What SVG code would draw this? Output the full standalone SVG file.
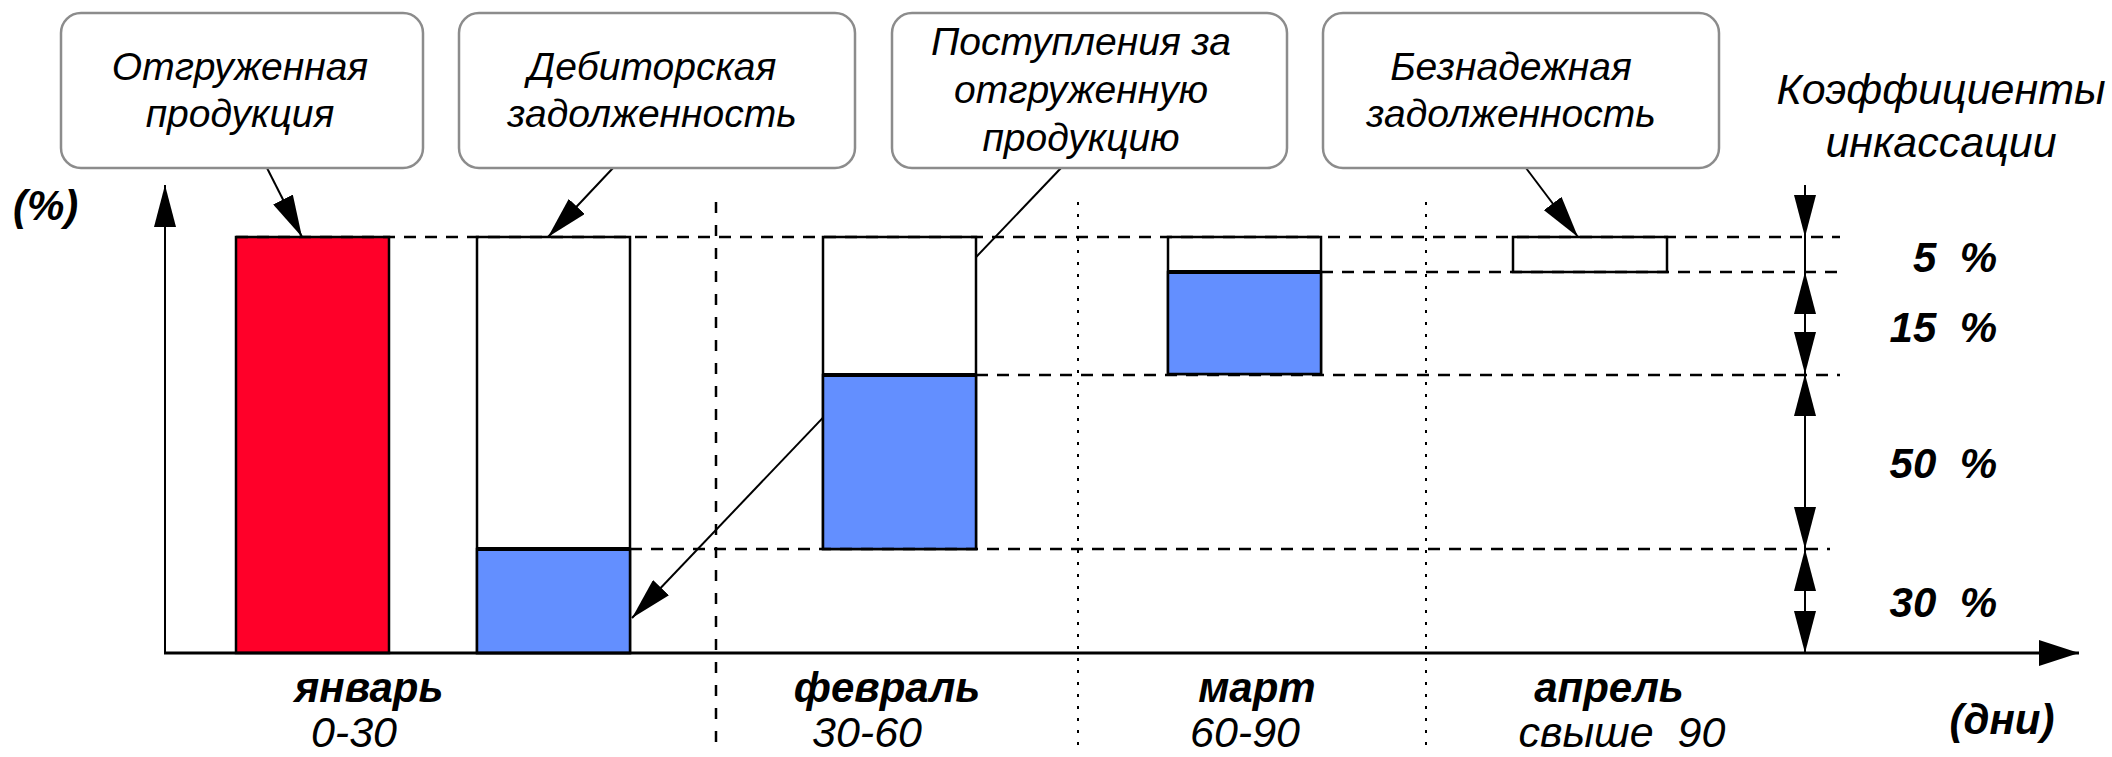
<svg xmlns="http://www.w3.org/2000/svg" width="2112" height="757" viewBox="0 0 2112 757">
<defs>
<style>
.box{fill:#fff;stroke:#8c8c8c;stroke-width:2.5}
.bt{font-family:"Liberation Sans",Arial,sans-serif;font-style:italic;font-size:39px;text-anchor:middle;fill:#000}
.bi{font-family:"Liberation Sans",Arial,sans-serif;font-style:italic;font-weight:bold;font-size:42px;fill:#000}
.it{font-family:"Liberation Sans",Arial,sans-serif;font-style:italic;font-size:43px;fill:#000;text-anchor:middle}
.bar{stroke:#000;stroke-width:2.5}
.white{fill:#fff}
.blue{fill:#638FFF}
.red{fill:#FF0029}
.div{stroke:#000;stroke-width:4}
.dash{stroke:#000;stroke-width:2.5;stroke-dasharray:12 9;fill:none}
.vdash{stroke:#000;stroke-width:2.5;stroke-dasharray:11 12;fill:none}
.dot{stroke:#000;stroke-width:2;stroke-dasharray:3 9;fill:none}
.ln{stroke:#000;stroke-width:2;fill:none}
</style>
<marker id="ah" viewBox="0 0 42 22" refX="42" refY="11" markerWidth="42" markerHeight="22" markerUnits="userSpaceOnUse" orient="auto-start-reverse">
<path d="M0,0 L42,11 L0,22 Z" fill="#000"/>
</marker>
<marker id="ahx" viewBox="0 0 40 26" refX="40" refY="13" markerWidth="40" markerHeight="26" markerUnits="userSpaceOnUse" orient="auto">
<path d="M0,0 L40,13 L0,26 Z" fill="#000"/>
</marker>
</defs>

<g id="grid">
<line class="vdash" x1="716" y1="202" x2="716" y2="752"/>
<line class="dot" x1="1078" y1="202" x2="1078" y2="752"/>
<line class="dot" x1="1426" y1="202" x2="1426" y2="752"/>
</g>

<g id="connectors">
<line class="ln" x1="1061" y1="168" x2="632" y2="618" marker-end="url(#ah)"/>
<line class="ln" x1="267" y1="168" x2="302" y2="237" marker-end="url(#ah)"/>
<line class="ln" x1="613" y1="168" x2="548" y2="237" marker-end="url(#ah)"/>
<line class="ln" x1="1526" y1="168" x2="1578" y2="237" marker-end="url(#ah)"/>
</g>

<g id="bar-jan-shipped">
<rect class="bar red" x="236" y="237" width="153" height="416"/>
</g>
<g id="bar-jan-receivable">
<rect class="bar white" x="477" y="237" width="153" height="416"/>
<rect class="bar blue" x="477" y="549" width="153" height="104"/>
<line class="div" x1="477" y1="549" x2="630" y2="549"/>
</g>
<g id="bar-feb">
<rect class="bar white" x="823" y="237" width="153" height="312"/>
<rect class="bar blue" x="823" y="375" width="153" height="174"/>
<line class="div" x1="823" y1="375" x2="976" y2="375"/>
</g>
<g id="bar-mar">
<rect class="bar white" x="1168" y="237" width="153" height="137"/>
<rect class="bar blue" x="1168" y="272" width="153" height="102"/>
<line class="div" x1="1168" y1="272" x2="1321" y2="272"/>
</g>
<g id="bar-apr">
<rect class="bar white" x="1513" y="237" width="154" height="35"/>
</g>

<g id="levels">
<line class="dash" x1="236" y1="237" x2="1840" y2="237"/>
<line class="dash" x1="1321" y1="272" x2="1840" y2="272"/>
<line class="dash" x1="976" y1="375" x2="1840" y2="375"/>
<line class="dash" x1="630" y1="549" x2="1830" y2="549"/>
</g>

<g id="axes">
<line x1="165" y1="653" x2="165" y2="185" stroke="#000" stroke-width="2" marker-end="url(#ah)"/>
<line x1="164" y1="653" x2="2079" y2="653" stroke="#000" stroke-width="3" marker-end="url(#ahx)"/>
</g>

<g id="coef-arrows">
<line class="ln" x1="1805" y1="185" x2="1805" y2="237" marker-end="url(#ah)"/>
<line class="ln" x1="1805" y1="237" x2="1805" y2="272"/>
<line class="ln" x1="1805" y1="272" x2="1805" y2="374" marker-start="url(#ah)" marker-end="url(#ah)"/>
<line class="ln" x1="1805" y1="374" x2="1805" y2="549" marker-start="url(#ah)" marker-end="url(#ah)"/>
<line class="ln" x1="1805" y1="549" x2="1805" y2="653" marker-start="url(#ah)" marker-end="url(#ah)"/>
</g>

<g id="box-shipped">
<rect class="box" x="61" y="13" width="362" height="155" rx="20"/>
<text class="bt" x="240" y="80">Отгруженная</text>
<text class="bt" x="240" y="127">продукция</text>
</g>
<g id="box-receivable">
<rect class="box" x="459" y="13" width="396" height="155" rx="20"/>
<text class="bt" x="652" y="80">Дебиторская</text>
<text class="bt" x="652" y="127">задолженность</text>
</g>
<g id="box-receipts">
<rect class="box" x="892" y="13" width="395" height="155" rx="20"/>
<text class="bt" x="1081" y="55">Поступления за</text>
<text class="bt" x="1081" y="103">отгруженную</text>
<text class="bt" x="1081" y="151">продукцию</text>
</g>
<g id="box-bad">
<rect class="box" x="1323" y="13" width="396" height="155" rx="20"/>
<text class="bt" x="1511" y="80">Безнадежная</text>
<text class="bt" x="1511" y="127">задолженность</text>
</g>

<g id="labels">
<text class="it" x="1941" y="104" font-size="44">Коэффициенты</text>
<text class="it" x="1941" y="157" font-size="44">инкассации</text>
<text class="bi" x="13" y="220">(%)</text>
<text class="bi" x="1997" y="272" text-anchor="end" font-size="44" xml:space="preserve">5  %</text>
<text class="bi" x="1997" y="342" text-anchor="end" font-size="44" xml:space="preserve">15  %</text>
<text class="bi" x="1997" y="478" text-anchor="end" font-size="44" xml:space="preserve">50  %</text>
<text class="bi" x="1997" y="617" text-anchor="end" font-size="44" xml:space="preserve">30  %</text>
<text class="bi" x="369" y="702" text-anchor="middle">январь</text>
<text class="bi" x="887" y="702" text-anchor="middle">февраль</text>
<text class="bi" x="1257" y="702" text-anchor="middle">март</text>
<text class="bi" x="1609" y="702" text-anchor="middle">апрель</text>
<text class="it" x="354" y="747">0-30</text>
<text class="it" x="867" y="747">30-60</text>
<text class="it" x="1245" y="747">60-90</text>
<text class="it" x="1622" y="747" xml:space="preserve">свыше  90</text>
<text class="bi" x="2002" y="734" text-anchor="middle">(дни)</text>
</g>
</svg>
